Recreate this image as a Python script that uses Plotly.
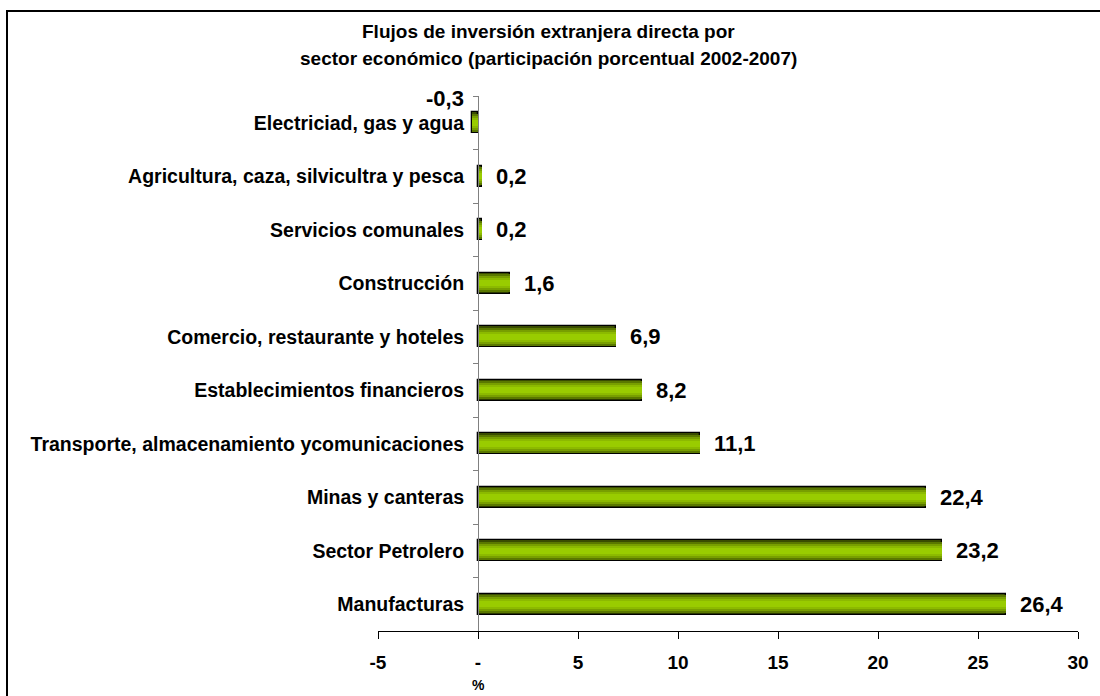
import plotly.graph_objects as go

# data, top to bottom as in the chart
sectors = [
    "Electriciad, gas y agua",
    "Agricultura, caza, silvicultra y pesca",
    "Servicios comunales",
    "Construcción",
    "Comercio, restaurante y hoteles",
    "Establecimientos financieros",
    "Transporte, almacenamiento ycomunicaciones",
    "Minas y canteras",
    "Sector Petrolero",
    "Manufacturas",
]
shares = [-0.3, 0.2, 0.2, 1.6, 6.9, 8.2, 11.1, 22.4, 23.2, 26.4]
share_labels = ["-0,3", "0,2", "0,2", "1,6", "6,9", "8,2", "11,1", "22,4", "23,2", "26,4"]

x_ticks = [-5, 0, 5, 10, 15, 20, 25, 30]
x_ticktext = ["-5", "-", "5", "10", "15", "20", "25", "30"]

FONT = "Liberation Sans, Arial, sans-serif"

# plot area in pixels: x from 378 to 1078, y from 96 to 631
L, R, T, B = 378, 22, 96, 65
W, H = 1100, 696
pw, ph = W - L - R, H - T - B


def px_x(p):
    return (p - L) / pw


def px_y(p):
    return (H - B - p) / ph


fig = go.Figure()

# fake a vertical gradient by stacking narrower, lighter bars on top
layers = [
    (0.40, "#3a4d00", dict(color="black", width=1.3)),
    (0.34, "#5a7800", dict(width=0)),
    (0.27, "#789f00", dict(width=0)),
    (0.19, "#8cba00", dict(width=0)),
    (0.11, "#99cc00", dict(width=0)),
]
for width, color, line in layers:
    fig.add_trace(go.Bar(
        x=shares,
        y=sectors,
        orientation="h",
        width=width,
        marker=dict(color=color, line=line),
        hoverinfo="skip",
        showlegend=False,
    ))

# value labels
value_font = dict(family=FONT, size=22, color="black", weight="bold")
for sector, val, lab in zip(sectors, shares, share_labels):
    if val < 0:
        # excel put this one above the bar, left of the axis
        fig.add_annotation(x=val, y=sector, text=lab, showarrow=False,
                           xanchor="right", yanchor="middle", xshift=-6, yshift=24,
                           font=value_font)
    else:
        fig.add_annotation(x=val, y=sector, text=lab, showarrow=False,
                           xanchor="left", yanchor="middle", xshift=12,
                           font=value_font)

# title, two lines
title_font = dict(family=FONT, size=19, color="black", weight="bold")
fig.add_annotation(xref="paper", yref="paper", x=px_x(548), y=px_y(31),
                   text="Flujos de inversión extranjera directa por", showarrow=False,
                   xanchor="center", yanchor="middle", font=title_font)
fig.add_annotation(xref="paper", yref="paper", x=px_x(548), y=px_y(58),
                   text="sector económico (participación porcentual 2002-2007)", showarrow=False,
                   xanchor="center", yanchor="middle", font=title_font)

# x axis title sits under zero
fig.add_annotation(xref="x", yref="paper", x=0, y=px_y(685),
                   text="%", showarrow=False, xanchor="center", yanchor="middle",
                   font=dict(family=FONT, size=14, color="black", weight="bold"))

# outer frame
fig.add_shape(type="rect", xref="paper", yref="paper",
              x0=px_x(7), x1=px_x(1110), y0=px_y(710), y1=px_y(11),
              line=dict(color="black", width=2), fillcolor="rgba(0,0,0,0)")

fig.update_layout(
    width=W,
    height=H,
    margin=dict(l=L, r=R, t=T, b=B, autoexpand=False),
    paper_bgcolor="white",
    plot_bgcolor="white",
    barmode="overlay",
    bargap=0,
    font=dict(family=FONT, color="black"),
    xaxis=dict(
        range=[-5, 30],
        tickvals=x_ticks,
        ticktext=x_ticktext,
        ticks="outside",
        ticklen=7,
        tickcolor="black",
        showline=True,
        linecolor="black",
        linewidth=1,
        showgrid=False,
        zeroline=False,
        tickfont=dict(family=FONT, size=19, color="black", weight="bold"),
        ticklabelstandoff=7,
    ),
    yaxis=dict(
        autorange="reversed",
        anchor="free",
        position=px_x(478),
        showline=True,
        linecolor="#808080",
        linewidth=1,
        ticks="outside",
        tickson="boundaries",
        ticklen=5,
        tickcolor="#808080",
        showgrid=False,
        zeroline=False,
        tickfont=dict(family=FONT, size=19.5, color="black", weight="bold"),
        ticklabelstandoff=10,
        automargin=False,
    ),
)

fig.write_html("out.html", config={"displayModeBar": False},
               post_script="document.body.style.margin='0px';")
